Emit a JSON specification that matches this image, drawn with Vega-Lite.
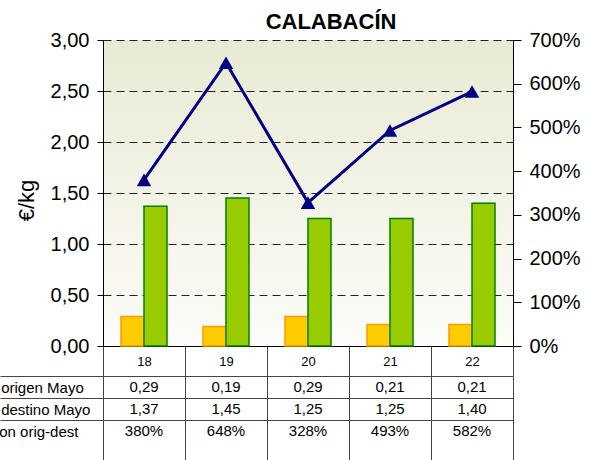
{
  "$schema": "https://vega.github.io/schema/vega-lite/v6.json",
  "width": 410,
  "height": 420,
  "autosize": {"type": "none"},
  "padding": {"left": 103, "top": 40, "right": 88, "bottom": 0},
  "background": "#FFFFFF",
  "title": {
    "text": "CALABACÍN",
    "fontSize": 22,
    "fontWeight": "bold",
    "font": "Liberation Sans",
    "color": "#000000",
    "anchor": "middle",
    "frame": "group",
    "orient": "top",
    "baseline": "alphabetic",
    "offset": -21,
    "dx": 23
  },
  "config": {
    "font": "Liberation Sans",
    "locale": {"number": {"decimal": ",", "thousands": ".", "grouping": [3], "currency": ["", " €"]}},
    "view": {
      "stroke": null,
      "fill": {
        "gradient": "linear",
        "x1": 0, "y1": 0, "x2": 0, "y2": 1,
        "stops": [
          {"offset": 0, "color": "#E9EAD4"},
          {"offset": 0.7285, "color": "#FCFCF9"},
          {"offset": 0.7286, "color": "#FFFFFF"},
          {"offset": 1, "color": "#FFFFFF"}
        ]
      }
    }
  },
  "data": {
    "values": [
      {"semana": "18", "Precio origen Mayo": 0.29, "Precio destino Mayo": 1.37, "Variacion orig-dest": 3.80},
      {"semana": "19", "Precio origen Mayo": 0.19, "Precio destino Mayo": 1.45, "Variacion orig-dest": 6.48},
      {"semana": "20", "Precio origen Mayo": 0.29, "Precio destino Mayo": 1.25, "Variacion orig-dest": 3.28},
      {"semana": "21", "Precio origen Mayo": 0.21, "Precio destino Mayo": 1.25, "Variacion orig-dest": 4.93},
      {"semana": "22", "Precio origen Mayo": 0.21, "Precio destino Mayo": 1.40, "Variacion orig-dest": 5.82}
    ]
  },
  "layer": [
    {
      "transform": [{"fold": ["Precio origen Mayo", "Precio destino Mayo"], "as": ["serie", "precio"]}],
      "mark": {"type": "bar", "strokeWidth": 1.5},
      "encoding": {
        "x": {
          "field": "semana", "type": "ordinal",
          "scale": {"type": "band", "paddingInner": 0, "paddingOuter": 0},
          "axis": {
            "orient": "bottom", "offset": -114, "title": null, "labelAngle": 0,
            "tickBand": "extent", "tickSize": 30, "tickColor": "#444", "tickWidth": 1,
            "domainColor": "#000000", "domainWidth": 1,
            "labelPadding": -15, "labelBaseline": "middle", "labelFontSize": 13, "labelColor": "#000000",
            "grid": false
          }
        },
        "xOffset": {
          "field": "serie", "type": "nominal",
          "sort": ["Precio origen Mayo", "Precio destino Mayo"],
          "scale": {"paddingInner": 0, "paddingOuter": 0.783}
        },
        "y": {
          "field": "precio", "type": "quantitative",
          "scale": {"domain": [0, 3], "range": [306, 0], "nice": false},
          "axis": {
            "orient": "left", "values": [0, 0.5, 1, 1.5, 2, 2.5, 3], "format": ".2f",
            "grid": true, "gridDash": [8, 5], "gridColor": "#222222", "gridWidth": 1,
            "tickSize": 6, "tickColor": "#000000", "domainColor": "#000000",
            "labelFontSize": 20, "labelPadding": 8, "labelColor": "#000000",
            "title": "€/kg", "titleFontSize": 22, "titleFontWeight": "normal", "titleColor": "#000000",
            "titleX": -77, "titleY": 160, "titleAngle": -90, "titleBaseline": "middle", "titleAlign": "center"
          }
        },
        "color": {
          "field": "serie", "type": "nominal",
          "scale": {"domain": ["Precio origen Mayo", "Precio destino Mayo"], "range": ["#FFCC00", "#99CC00"]},
          "legend": null
        },
        "stroke": {
          "field": "serie", "type": "nominal",
          "scale": {"domain": ["Precio origen Mayo", "Precio destino Mayo"], "range": ["#FF9900", "#008000"]},
          "legend": null
        }
      }
    },
    {
      "encoding": {
        "x": {
          "field": "semana", "type": "ordinal",
          "scale": {"type": "band", "paddingInner": 0, "paddingOuter": 0},
          "axis": null
        },
        "y": {
          "field": "Variacion orig-dest", "type": "quantitative",
          "scale": {"domain": [0, 7], "range": [306, 0], "nice": false},
          "axis": {
            "orient": "right", "values": [0, 1, 2, 3, 4, 5, 6, 7], "format": ".0%",
            "grid": false, "tickSize": 8, "tickColor": "#000000", "domainColor": "#000000",
            "labelFontSize": 20, "labelPadding": 8, "labelColor": "#000000", "title": null
          }
        }
      },
      "layer": [
        {"mark": {"type": "line", "color": "#000080", "strokeWidth": 3}},
        {"mark": {"type": "point", "shape": "triangle-up", "filled": true, "color": "#000080", "size": 210, "opacity": 1}}
      ]
    },
    {
      "encoding": {
        "x": {
          "field": "semana", "type": "ordinal",
          "scale": {"type": "band", "paddingInner": 0, "paddingOuter": 0},
          "axis": {
            "orient": "bottom", "title": null, "labels": false, "domain": false, "grid": false,
            "tickBand": "extent", "tickSize": -84, "tickColor": "#444444", "tickWidth": 1
          }
        }
      },
      "layer": [
        {
          "mark": {"type": "text", "fontSize": 15, "color": "#000000"},
          "encoding": {
            "y": {
              "datum": "Precio origen Mayo", "type": "nominal",
              "scale": {"type": "band", "domain": ["Precio origen Mayo", "Precio destino Mayo", "Variacion orig-dest"], "range": [336, 402], "paddingInner": 0, "paddingOuter": 0},
              "axis": {
                "orient": "left", "title": null, "domain": false,
                "grid": true, "gridColor": "#444444", "gridWidth": 1,
                "tickOffset": -11, "labelOffset": 11,
                "tickSize": 103, "tickColor": "#444444", "tickWidth": 1,
                "labelAlign": "left", "labelBaseline": "middle", "labelPadding": 46,
                "labelFontSize": 15, "labelColor": "#000000", "labelLimit": 300
              }
            },
            "text": {"field": "Precio origen Mayo", "type": "quantitative", "format": ".2f"}
          }
        },
        {
          "mark": {"type": "text", "fontSize": 15, "color": "#000000"},
          "encoding": {
            "y": {"datum": "Precio destino Mayo", "type": "nominal"},
            "text": {"field": "Precio destino Mayo", "type": "quantitative", "format": ".2f"}
          }
        },
        {
          "mark": {"type": "text", "fontSize": 15, "color": "#000000"},
          "encoding": {
            "y": {"datum": "Variacion orig-dest", "type": "nominal"},
            "text": {"field": "Variacion orig-dest", "type": "quantitative", "format": ".0%"}
          }
        }
      ]
    }
  ],
  "resolve": {
    "scale": {"x": "independent", "y": "independent"},
    "axis": {"x": "independent", "y": "independent"}
  }
}
